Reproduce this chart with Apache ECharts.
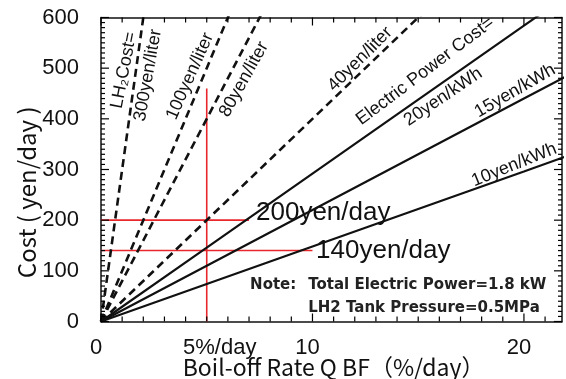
<!DOCTYPE html>
<html>
<head>
<meta charset="utf-8">
<script src="https://cdn.jsdelivr.net/npm/echarts@6/dist/echarts.min.js"></script>
<style>
  html, body { margin: 0; padding: 0; background: #fff; }
  #chart { width: 566px; height: 379px; }
</style>
</head>
<body>
<div id="chart"></div>
<script>
// Boil-off rate sample points (%/day)
const boilOffRate = [0, 5, 10, 20, 22];

// Daily cost of replacing boiled-off LH2 (yen/day) at each rate
const lh2Cost300 = [0, 1500, 3000, 6000, 6600];
const lh2Cost100 = [0, 500, 1000, 2000, 2200];
const lh2Cost80  = [0, 400, 800, 1600, 1760];
const lh2Cost40  = [0, 200, 400, 800, 880];

// Daily electric cost of re-liquefaction (yen/day) at each rate
const elecCost20 = [0, 146, 292, 584, 642];
const elecCost15 = [0, 110, 220, 440, 484];
const elecCost10 = [0, 74, 148, 296, 326];

// Red guide lines: cost levels and the 5 %/day reference rate
const guideHighRate = [0, 7];
const guideHighCost = [200, 200];
const guideLowRate  = [0, 10];
const guideLowCost  = [140, 140];
const guideRefRate  = [5, 5];
const guideRefCost  = [0, 460];

// Axis tick labels
const xTickLabels = { 0: '0', 10: '10', 20: '20' };
const yTickValues = [0, 100, 200, 300, 400, 500, 600];

const pairs = (xs, ys) => xs.map((x, i) => [x, ys[i]]);

const chart = echarts.init(document.getElementById('chart'), null, { renderer: 'canvas' });

const X_MAX = 21.8, Y_MAX = 600;
const ink = '#111';
const tickFont = { fontFamily: 'Liberation Sans', fontSize: 22, color: ink };
const frameLine = { show: true, onZero: false, lineStyle: { color: ink, width: 1.5 } };

// Tick positions along the frame (%/day and yen/day)
const xFrameTicks = [];
for (let r = 0; r <= 21; r++) xFrameTicks.push(r);
const yFrameTicks = [];
for (let c = 0; c <= Y_MAX; c += 10) yFrameTicks.push(c);

const dashed = (name, ys) => ({
  name, type: 'line', data: pairs(boilOffRate, ys), symbol: 'none', clip: true,
  lineStyle: { color: ink, width: 2.6, type: [8, 5] }, silent: true
});
const solid = (name, ys) => ({
  name, type: 'line', data: pairs(boilOffRate, ys), symbol: 'none', clip: true,
  lineStyle: { color: ink, width: 2.2 }, silent: true
});
const guide = (name, xs, ys) => ({
  name, type: 'line', data: pairs(xs, ys), symbol: 'none', clip: true,
  lineStyle: { color: '#e8262b', width: 1.6 }, silent: true, z: 1
});

const plainAxis = (pos, max) => ({
  type: 'value', position: pos, min: 0, max,
  axisLine: frameLine, axisTick: { show: false }, axisLabel: { show: false }, splitLine: { show: false }
});

chart.setOption({
  animation: false,
  grid: { left: 101, right: 4, top: 17.5, bottom: 57.5 },
  xAxis: [
    {
      type: 'value', position: 'bottom', min: 0, max: X_MAX, interval: 5,
      axisLine: frameLine, axisTick: { show: false }, splitLine: { show: false },
      axisLabel: Object.assign({
        margin: 15, showMaxLabel: false, padding: [0, 10, 0, 0],
        formatter: v => (xTickLabels[v] !== undefined ? xTickLabels[v] : '')
      }, tickFont)
    },
    plainAxis('top', X_MAX)
  ],
  yAxis: [
    {
      type: 'value', position: 'left', min: 0, max: Y_MAX, interval: 100,
      axisLine: frameLine, axisTick: { show: false }, splitLine: { show: false },
      axisLabel: Object.assign({ margin: 22,
        formatter: v => (yTickValues.includes(v) ? String(v) : '') }, tickFont)
    },
    plainAxis('right', Y_MAX)
  ],
  series: [
    guide('200 yen/day', guideHighRate, guideHighCost),
    guide('140 yen/day', guideLowRate, guideLowCost),
    guide('5 %/day', guideRefRate, guideRefCost),
    dashed('300yen/liter', lh2Cost300),
    dashed('100yen/liter', lh2Cost100),
    dashed('80yen/liter', lh2Cost80),
    dashed('40yen/liter', lh2Cost40),
    solid('20yen/kWh', elecCost20),
    solid('15yen/kWh', elecCost15),
    solid('10yen/kWh', elecCost10)
  ]
});

const toPx = (x, y) => chart.convertToPixel({ xAxisIndex: 0, yAxisIndex: 0 }, [x, y]);
const graphics = [];

// Inward tick marks on all four sides of the frame, placed through the axis scales
const tickLine = (a, b) => ({
  type: 'line', z: 5, silent: true,
  shape: { x1: a[0], y1: a[1], x2: b[0], y2: b[1] },
  style: { stroke: '#000', lineWidth: 1.2 }
});
xFrameTicks.forEach(r => {
  const len = r % 10 === 0 ? 8 : 5;
  const pb = toPx(r, 0), pt = toPx(r, Y_MAX);
  graphics.push(tickLine(pb, [pb[0], pb[1] - len]));
  graphics.push(tickLine(pt, [pt[0], pt[1] + len]));
});
yFrameTicks.forEach(c => {
  const len = c % 100 === 0 ? 8 : 4;
  const pl = toPx(0, c), pr = toPx(X_MAX, c);
  graphics.push(tickLine(pl, [pl[0] + len, pl[1]]));
  graphics.push(tickLine(pr, [pr[0] - len, pr[1]]));
});

// Annotations anchored in data coordinates: [rate, cost, text, angle(deg), style]
const lineLabelFont = { fontFamily: 'Liberation Sans', fontSize: 18, fill: ink };
const annotations = [
  [1.09, 496, 'LH₂Cost=', 79, lineLabelFont],
  [2.22, 486, '300yen/liter', 80, lineLabelFont],
  [4.21, 484, '100yen/liter', 66, lineLabelFont],
  [6.76, 478, '80yen/liter', 61, lineLabelFont],
  [12.25, 518, '40yen/liter', 45, lineLabelFont],
  [15.33, 494, 'Electric Power Cost=', 37, lineLabelFont],
  [16.18, 443, '20yen/kWh', 34, lineLabelFont],
  [19.58, 455, '15yen/kWh', 30, lineLabelFont],
  [19.54, 309, '10yen/kWh', 22, lineLabelFont]
];
annotations.forEach(([x, y, text, deg, font]) => {
  const p = toPx(x, y);
  graphics.push({
    type: 'text', x: p[0], y: p[1], rotation: deg * Math.PI / 180, z: 10,
    style: Object.assign({ text, textAlign: 'center', textVerticalAlign: 'middle' }, font)
  });
});

const bigFont = { fontFamily: 'Liberation Sans', fontSize: 26, fill: ink };
const noteFont = { fontFamily: 'DejaVu Sans', fontWeight: 'bold', fontSize: 15, fill: '#222' };
const leftTexts = [
  [7.33, 214, '200yen/day', bigFont],
  [10.17, 139, '140yen/day', bigFont],
  [7.05, 72, 'Note:', noteFont],
  [9.80, 72, 'Total Electric Power=1.8 kW', noteFont],
  [9.80, 27, 'LH2 Tank Pressure=0.5MPa', noteFont]
];
leftTexts.forEach(([x, y, text, font]) => {
  const p = toPx(x, y);
  graphics.push({
    type: 'text', x: p[0], y: p[1], z: 10,
    style: Object.assign({ text, textAlign: 'left', textVerticalAlign: 'middle' }, font)
  });
});

// "5%/day" label under the reference rate
const p5 = toPx(5, 0);
graphics.push({
  type: 'text', x: p5[0] + 13, y: p5[1] + 26, z: 10,
  style: { text: '5%/day', textAlign: 'center', textVerticalAlign: 'middle',
    fontFamily: 'Liberation Sans', fontSize: 22, fill: ink }
});

// Axis titles
const pxTitle = toPx(11.0, 0);
graphics.push({
  type: 'text', x: pxTitle[0], y: pxTitle[1] + 46, z: 10,
  style: { text: 'Boil-off Rate Q BF（%/day）', textAlign: 'center', textVerticalAlign: 'middle',
    fontFamily: 'Noto Sans CJK JP', fontSize: 23, fill: ink }
});
const pyTitle = toPx(0, 255);
graphics.push({
  type: 'text', x: pyTitle[0] - 74, y: pyTitle[1], rotation: Math.PI / 2, z: 10,
  style: { text: 'Cost ( yen/day )', textAlign: 'center', textVerticalAlign: 'middle',
    fontFamily: 'Noto Sans CJK JP', fontSize: 24, fill: ink }
});

chart.setOption({ graphic: graphics });
</script>
</body>
</html>
